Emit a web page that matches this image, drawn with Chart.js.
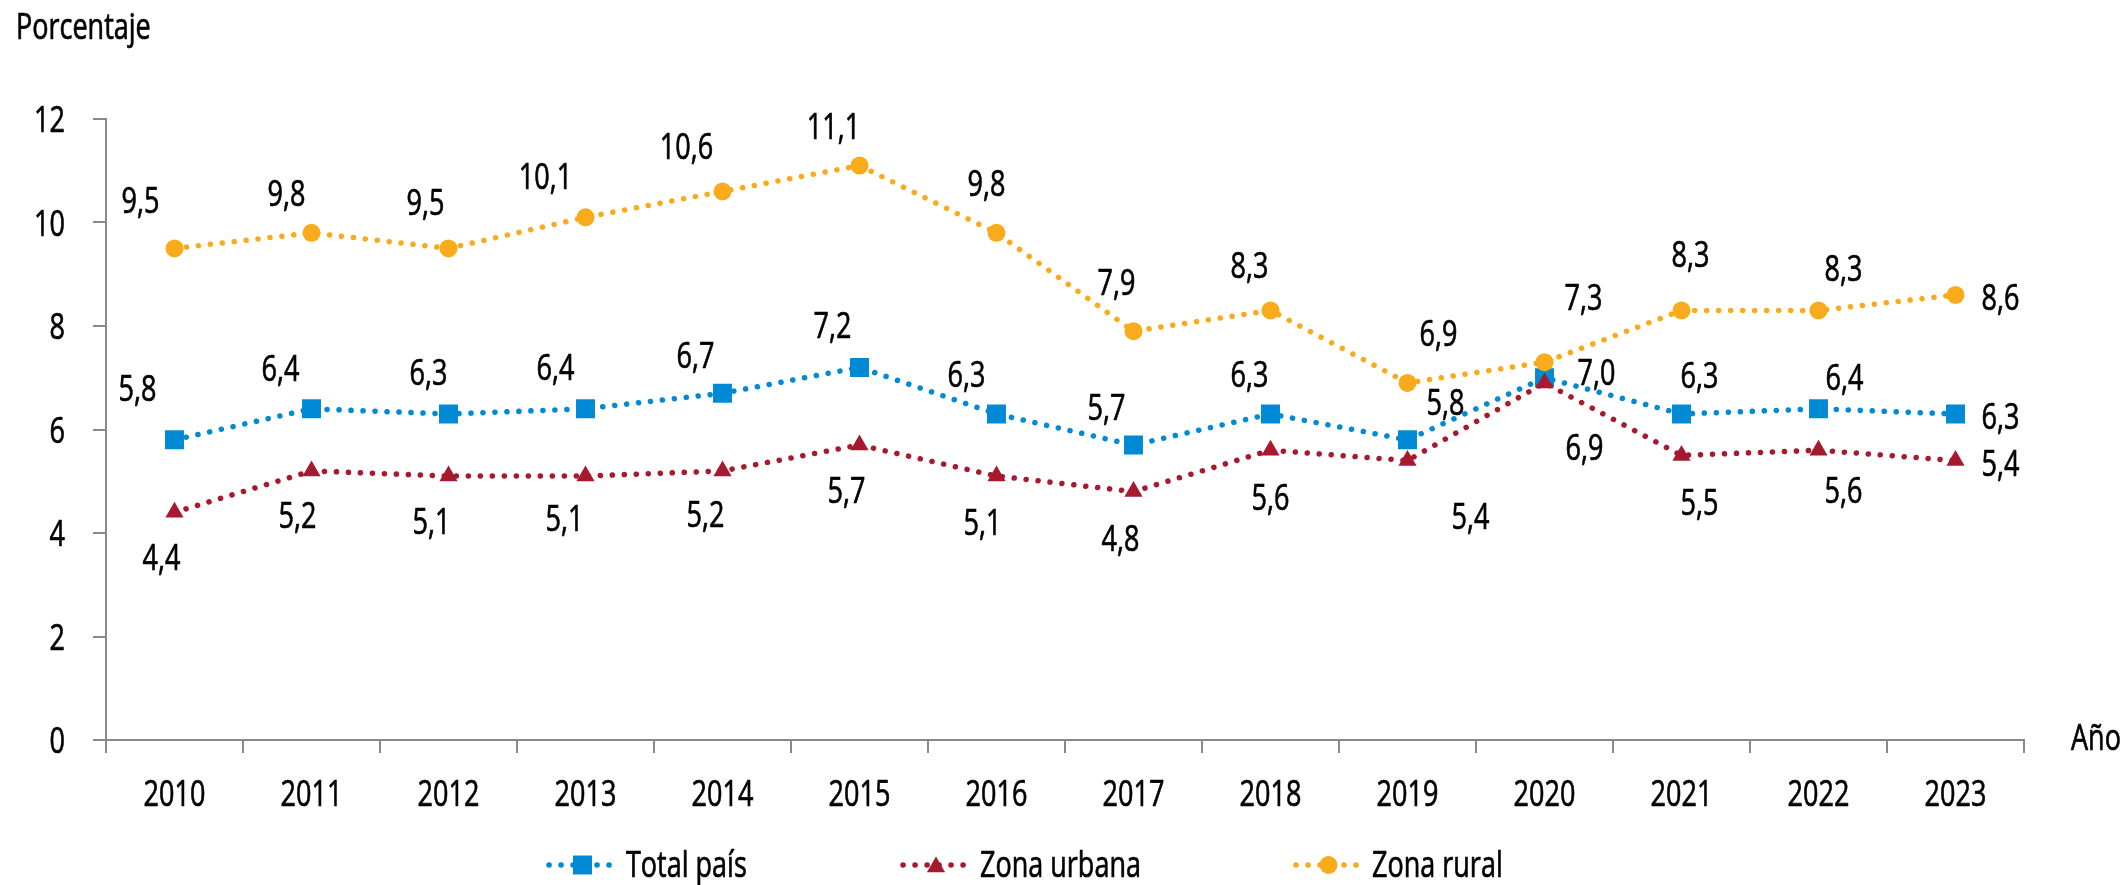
<!DOCTYPE html>
<html>
<head>
<meta charset="utf-8">
<script src="https://cdn.jsdelivr.net/npm/chart.js@4/dist/chart.umd.min.js"></script>
<style>
  html, body { margin: 0; padding: 0; background: #ffffff; }
  #wrap { width: 2126px; height: 885px; position: relative; }
</style>
</head>
<body>
<div id="wrap"><canvas id="c" width="2126" height="885"></canvas></div>
<script>
// ---- Data ----
const years = ['2010','2011','2012','2013','2014','2015','2016','2017','2018','2019','2020','2021','2022','2023'];
const totalPais = [5.8, 6.4, 6.3, 6.4, 6.7, 7.2, 6.3, 5.7, 6.3, 5.8, 7.0, 6.3, 6.4, 6.3];
const zonaUrbana = [4.4, 5.2, 5.1, 5.1, 5.2, 5.7, 5.1, 4.8, 5.6, 5.4, 6.9, 5.5, 5.6, 5.4];
const zonaRural = [9.5, 9.8, 9.5, 10.1, 10.6, 11.1, 9.8, 7.9, 8.3, 6.9, 7.3, 8.3, 8.3, 8.6];
const yTicks = [0, 2, 4, 6, 8, 10, 12];
const seriesNames = ['Total país', 'Zona urbana', 'Zona rural'];
const yTitle = 'Porcentaje';
const xTitle = 'Año';

// ---- Label placement (layout only, px offsets of label centre from each point) ----
const offTotal = [[-37,-52],[-31,-41],[-20,-42],[-30,-42],[-27,-38],[-27,-42],[-30,-40],[-27,-38],[-21,-40],[38,-38],[52,-6],[18,-39],[26,-32],[45,2]];
const offUrban = [[-13,45],[-14,44],[-17,45],[-21,42],[-17,43],[-13,45],[-14,46],[-13,46],[0,47],[63,55],[40,64],[18,47],[25,40],[45,2]];
const offRural = [[-34,-48],[-25,-40],[-23,-46],[-40,-41],[-36,-45],[-26,-40],[-10,-50],[-17,-49],[-21,-45],[31,-50],[39,-65],[9,-56],[25,-42],[45,2]];

const FONT = '"Open Sans", "Noto Sans", sans-serif';
const FS = 36;
const SX = 0.75;          // horizontal condensing of text
const HALF_DIGIT = 13;    // half digit height, for centring
const C_BLUE = '#008AD6';
const C_RED = '#A6192E';
const C_ORANGE = '#F9AB1C';
const AXIS = '#898989';

const fmt = v => v.toFixed(1).replace('.', ',');

function drawText(ctx, text, x, y, align) {
  ctx.save();
  ctx.font = FS + 'px ' + FONT;
  ctx.fillStyle = '#000';
  ctx.strokeStyle = '#000';
  ctx.lineWidth = 0.7;
  ctx.lineJoin = 'round';
  ctx.textBaseline = 'alphabetic';
  ctx.textAlign = align || 'left';
  ctx.translate(x, y);
  ctx.scale(SX, 1);
  ctx.fillText(text, 0, 0);
  ctx.strokeText(text, 0, 0);
  ctx.restore();
}

const decorPlugin = {
  id: 'customDecor',
  afterDatasetsDraw(chart) {
    const ctx = chart.ctx;
    const offs = [offTotal, offUrban, offRural];
    chart.data.datasets.forEach((ds, di) => {
      const meta = chart.getDatasetMeta(di);
      meta.data.forEach((pt, i) => {
        const o = offs[di][i];
        drawText(ctx, fmt(ds.data[i]), pt.x + o[0], pt.y + o[1] + HALF_DIGIT, 'center');
      });
    });
  },
  afterDraw(chart) {
    const ctx = chart.ctx;
    // axis tick labels, positioned by the chart's own scales
    const xs = chart.scales.x;
    xs.ticks.forEach((t, i) => {
      drawText(ctx, xs.getLabelForValue(t.value), xs.getPixelForTick(i), 806, 'center');
    });
    const ys = chart.scales.y;
    ys.ticks.forEach((t, i) => {
      drawText(ctx, String(t.value), 65, ys.getPixelForTick(i) + HALF_DIGIT, 'right');
    });
    drawText(ctx, yTitle, 16, 39, 'left');
    drawText(ctx, xTitle, 2071, 750, 'left');

    // legend
    const items = [
      {name: seriesNames[0], color: C_BLUE, style: 'rect', r: 13.4, x1: 549, x2: 616, tx: 626, dy: 0},
      {name: seriesNames[1], color: C_RED, style: 'triangle', r: 10.5, x1: 903, x2: 969, tx: 980, dy: 2},
      {name: seriesNames[2], color: C_ORANGE, style: 'circle', r: 9, x1: 1296, x2: 1361, tx: 1372, dy: 0}
    ];
    const ly = 865;
    items.forEach(it => {
      ctx.save();
      ctx.strokeStyle = it.color;
      ctx.lineWidth = 5.5;
      ctx.lineCap = 'round';
      ctx.setLineDash([0.1, 11.9]);
      ctx.beginPath();
      ctx.moveTo(it.x1, ly);
      ctx.lineTo(it.x2, ly);
      ctx.stroke();
      ctx.setLineDash([]);
      ctx.fillStyle = it.color;
      ctx.strokeStyle = it.color;
      Chart.helpers.drawPoint(ctx, {pointStyle: it.style, radius: it.r, rotation: 0, borderWidth: 0}, (it.x1 + it.x2) / 2, ly + it.dy);
      ctx.restore();
      drawText(ctx, it.name, it.tx, 877, 'left');
    });
  }
};

function makeDs(label, data, color, style, r, order) {
  return {
    label, data, order,
    borderColor: color,
    backgroundColor: color,
    pointBackgroundColor: color,
    pointBorderColor: color,
    pointBorderWidth: 0,
    pointStyle: style,
    pointRadius: r,
    pointHoverRadius: r,
    borderWidth: 5.5,
    borderCapStyle: 'round',
    borderDash: [0.1, 11.9],
    tension: 0,
    fill: false
  };
}

new Chart(document.getElementById('c'), {
  type: 'line',
  data: {
    labels: years,
    datasets: [
      makeDs(seriesNames[0], totalPais, C_BLUE, 'rect', 13.4, 3),
      makeDs(seriesNames[1], zonaUrbana, C_RED, 'triangle', 10.5, 2),
      makeDs(seriesNames[2], zonaRural, C_ORANGE, 'circle', 9, 1)
    ]
  },
  options: {
    responsive: false,
    animation: false,
    devicePixelRatio: 1,
    layout: { padding: { left: 0, right: 102, top: 119, bottom: 0 } },
    plugins: {
      legend: { display: false },
      tooltip: { enabled: false },
      title: { display: false }
    },
    scales: {
      x: {
        type: 'category',
        offset: true,
        grid: { display: true, drawOnChartArea: false, offset: true, tickLength: 13, color: AXIS, lineWidth: 2 },
        border: { display: true, color: AXIS, width: 2 },
        ticks: { color: 'rgba(0,0,0,0)', font: { family: FONT, size: FS }, padding: 18, maxRotation: 0, autoSkip: false },
        afterFit(scale) { scale.height = 885 - 740; }
      },
      y: {
        min: 0, max: 12,
        afterBuildTicks(scale) { scale.ticks = yTicks.map(v => ({ value: v })); },
        grid: { display: true, drawOnChartArea: false, tickLength: 13, color: AXIS, lineWidth: 2 },
        border: { display: true, color: AXIS, width: 2 },
        ticks: { color: 'rgba(0,0,0,0)', font: { family: FONT, size: FS }, padding: 26 },
        afterFit(scale) { scale.width = 106; }
      }
    }
  },
  plugins: [decorPlugin]
});
</script>
</body>
</html>
